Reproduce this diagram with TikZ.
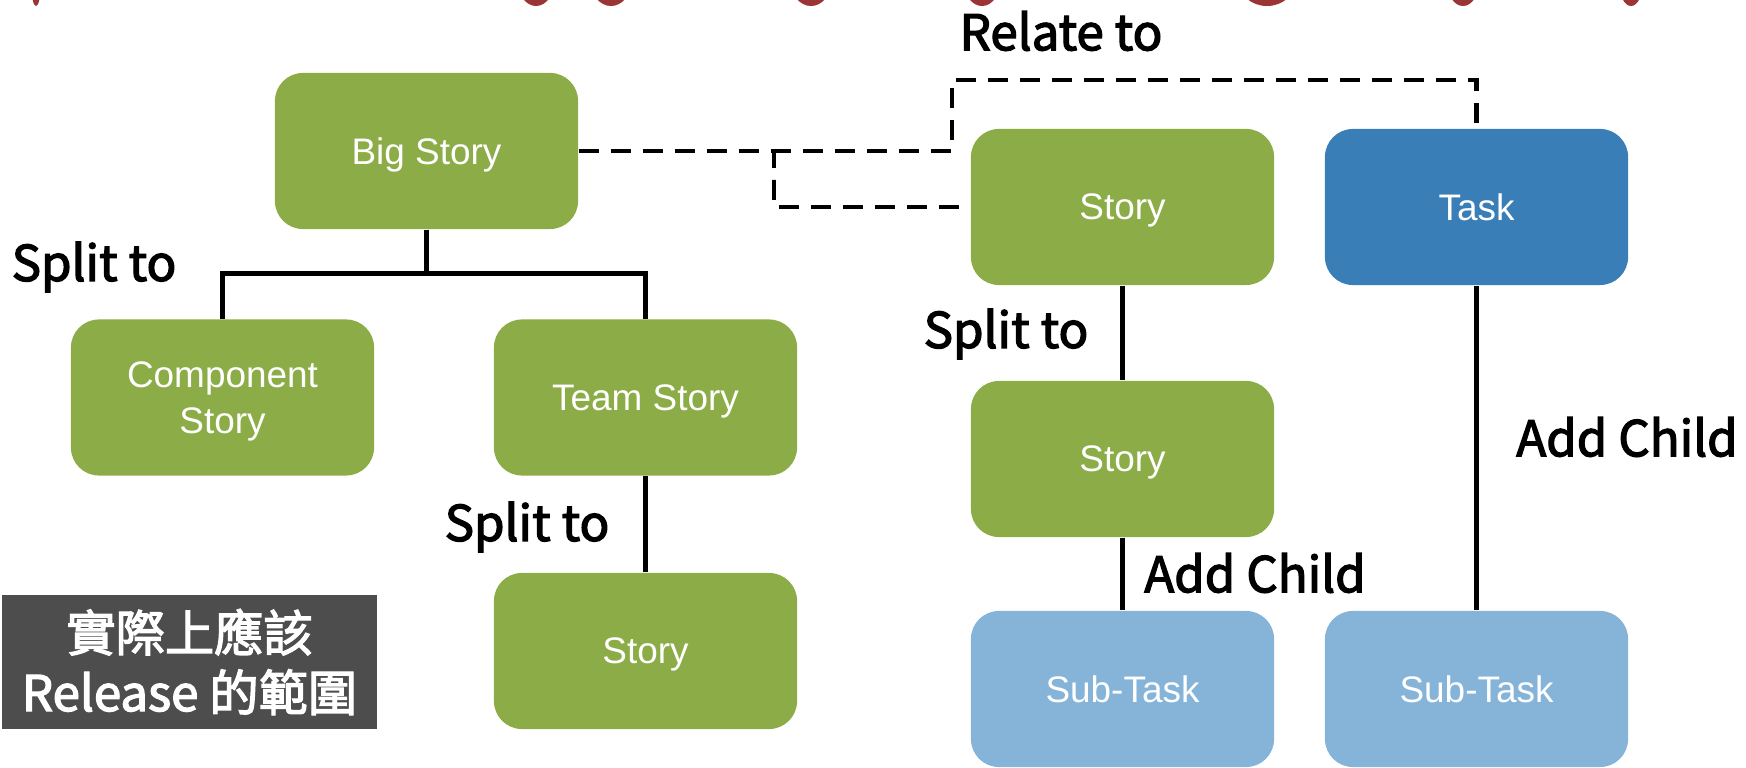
\documentclass[tikz,border=0pt]{standalone}
\usepackage{fontspec}
\setmainfont{Liberation Sans}
\newfontfamily\cjk[FakeBold=2.6]{Noto Sans CJK TC}
\definecolor{storygreen}{HTML}{8BAC46}
\definecolor{taskblue}{HTML}{3A7EB8}
\definecolor{subblue}{HTML}{86B4D9}
\definecolor{notegray}{HTML}{4D4D4D}
\definecolor{titlered}{HTML}{9B3434}

\begin{document}
\begin{tikzpicture}[x=0.01cm, y=-0.01cm,
    card/.style={rounded corners=0.28cm, minimum width=3.03cm, minimum height=1.56cm,
      text=white, align=center, font=\fontsize{10.5}{13}\selectfont, inner sep=0pt, text depth=0pt},
    story/.style={card, fill=storygreen},
    task/.style={card, fill=taskblue},
    subtask/.style={card, fill=subblue},
    link/.style={line width=1.3pt},
    relate/.style={line width=1.4pt, dash pattern=on 5.7pt off 3.4pt},
    tag/.style={font=\cjk\fontsize{14}{17}\selectfont, inner sep=0pt}]
      \useasboundingbox (0,0) rectangle (1746,768);

      % 標題の切れ端
      \begin{scope}
        \clip (0,0) rectangle (1746,6);
        \foreach \cx/\w in {36/5, 536/18, 611/20, 811/20, 982/18, 1267/28, 1463/16, 1631/12}
          \fill [titlered] (\cx,-18) ellipse ({\w*0.01cm} and 0.24cm);
      \end{scope}

      % ストーリー
      \node [story] (big) at (426.5,151) {Big Story};
      \node [story] (comp) at (222.5,397.5) {Component\\Story};
      \node [story] (team) at (645.5,397.5) {Team Story};
      \node [story] (teamsub) at (645.5,651) {Story};
      \node [story] (story1) at (1122.5,207) {Story};
      \node [story] (story2) at (1122.5,459) {Story};
      \node [task] (task) at (1476.5,207) {Task};
      \node [subtask] (sub1) at (1122.5,689) {Sub-Task};
      \node [subtask] (sub2) at (1476.5,689) {Sub-Task};

      % 分割
      \draw [link] (big.south) -- ++(0,44) -| (comp.north);
      \draw [link] (big.south) -- ++(0,44) -| (team.north);
      \draw [link] (team.south) -- (teamsub.north);
      \draw [link] (story1.south) -- (story2.north);
      \draw [link] (story2.south) -- (sub1.north);
      \draw [link] (task.south) -- (sub2.north);

      % 関連
      \coordinate (bend) at (774,180);
      \coordinate (relay) at (952,80);
      \draw [relate] (big.east) -| (bend) |- (story1.west);
      \draw [relate] (big.east) -| (relay) -| (task.north);

      % 説明
      \node [tag] (relatetag) at (1061,31) {Relate to};
      \node [tag] (split1) at (94,267) {Split to};
      \node [tag] (split2) at (527,527) {Split to};
      \node [tag] (split3) at (1006,334) {Split to};
      \node [tag] (child1) at (1255,573) {Add Child};
      \node [tag] (child2) at (1627,437) {Add Child};

      \node [fill=notegray, text=white, minimum width=3.75cm, minimum height=1.34cm,
        align=center, font=\cjk\fontsize{14}{17}\selectfont] (scope) at (189.5,662)
        {實際上應該\\Release 的範圍};
\end{tikzpicture}
\end{document}
